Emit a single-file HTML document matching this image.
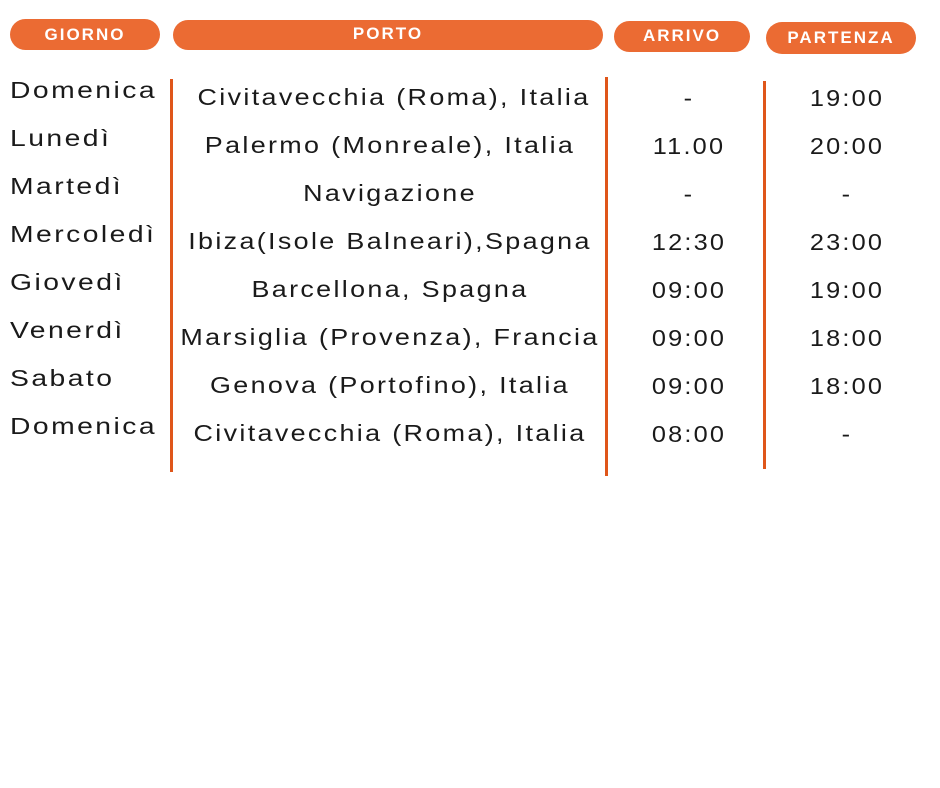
<!DOCTYPE html>
<html><head><meta charset="utf-8"><style>
body{margin:0;width:940px;height:788px;background:#fff;position:relative;overflow:hidden;font-family:"Liberation Sans",sans-serif;}
.p{position:absolute;background:#EB6B33;border-radius:16px;color:#fff;font-weight:bold;font-size:17px;letter-spacing:2px;text-align:center;font-family:"Liberation Sans",sans-serif;}
.l{position:absolute;width:3px;background:#DF561A;}
.t{position:absolute;font-size:23px;letter-spacing:2px;color:#1a1a1a;white-space:nowrap;line-height:26px;}
.d{transform:scaleX(1.23);transform-origin:0 0;}
.po{transform:translateX(-50%) scaleX(1.17);}
.ti{transform:translateX(-50%) scaleX(1.1);}
</style></head><body>
<div class="p" style="left:10px;top:19px;width:150px;height:31px;line-height:31px">GIORNO</div>
<div class="p" style="left:173px;top:20px;width:430px;height:30px;line-height:28px">PORTO</div>
<div class="p" style="left:614px;top:21px;width:136px;height:31px;line-height:29px">ARRIVO</div>
<div class="p" style="left:766px;top:22px;width:150px;height:32px;line-height:32px">PARTENZA</div>
<div class="l" style="left:170px;top:79px;height:393px"></div>
<div class="l" style="left:605px;top:77px;height:399px"></div>
<div class="l" style="left:763px;top:81px;height:388px"></div>

<div class="t d" style="left:10px;top:77px">Domenica</div>
<div class="t d" style="left:10px;top:125px">Lunedì</div>
<div class="t d" style="left:10px;top:173px">Martedì</div>
<div class="t d" style="left:10px;top:221px">Mercoledì</div>
<div class="t d" style="left:10px;top:269px">Giovedì</div>
<div class="t d" style="left:10px;top:317px">Venerdì</div>
<div class="t d" style="left:10px;top:365px">Sabato</div>
<div class="t d" style="left:10px;top:413px">Domenica</div>

<div class="t po" style="left:394px;top:84px">Civitavecchia (Roma), Italia</div>
<div class="t po" style="left:390px;top:132px">Palermo (Monreale), Italia</div>
<div class="t po" style="left:390px;top:180px">Navigazione</div>
<div class="t po" style="left:390px;top:228px">Ibiza(Isole Balneari),Spagna</div>
<div class="t po" style="left:390px;top:276px">Barcellona, Spagna</div>
<div class="t po" style="left:390px;top:324px">Marsiglia (Provenza), Francia</div>
<div class="t po" style="left:390px;top:372px">Genova (Portofino), Italia</div>
<div class="t po" style="left:390px;top:420px">Civitavecchia (Roma), Italia</div>

<div class="t ti" style="left:689px;top:85px">-</div>
<div class="t ti" style="left:689px;top:133px">11.00</div>
<div class="t ti" style="left:689px;top:181px">-</div>
<div class="t ti" style="left:689px;top:229px">12:30</div>
<div class="t ti" style="left:689px;top:277px">09:00</div>
<div class="t ti" style="left:689px;top:325px">09:00</div>
<div class="t ti" style="left:689px;top:373px">09:00</div>
<div class="t ti" style="left:689px;top:421px">08:00</div>

<div class="t ti" style="left:847px;top:85px">19:00</div>
<div class="t ti" style="left:847px;top:133px">20:00</div>
<div class="t ti" style="left:847px;top:181px">-</div>
<div class="t ti" style="left:847px;top:229px">23:00</div>
<div class="t ti" style="left:847px;top:277px">19:00</div>
<div class="t ti" style="left:847px;top:325px">18:00</div>
<div class="t ti" style="left:847px;top:373px">18:00</div>
<div class="t ti" style="left:847px;top:421px">-</div>
</body></html>
